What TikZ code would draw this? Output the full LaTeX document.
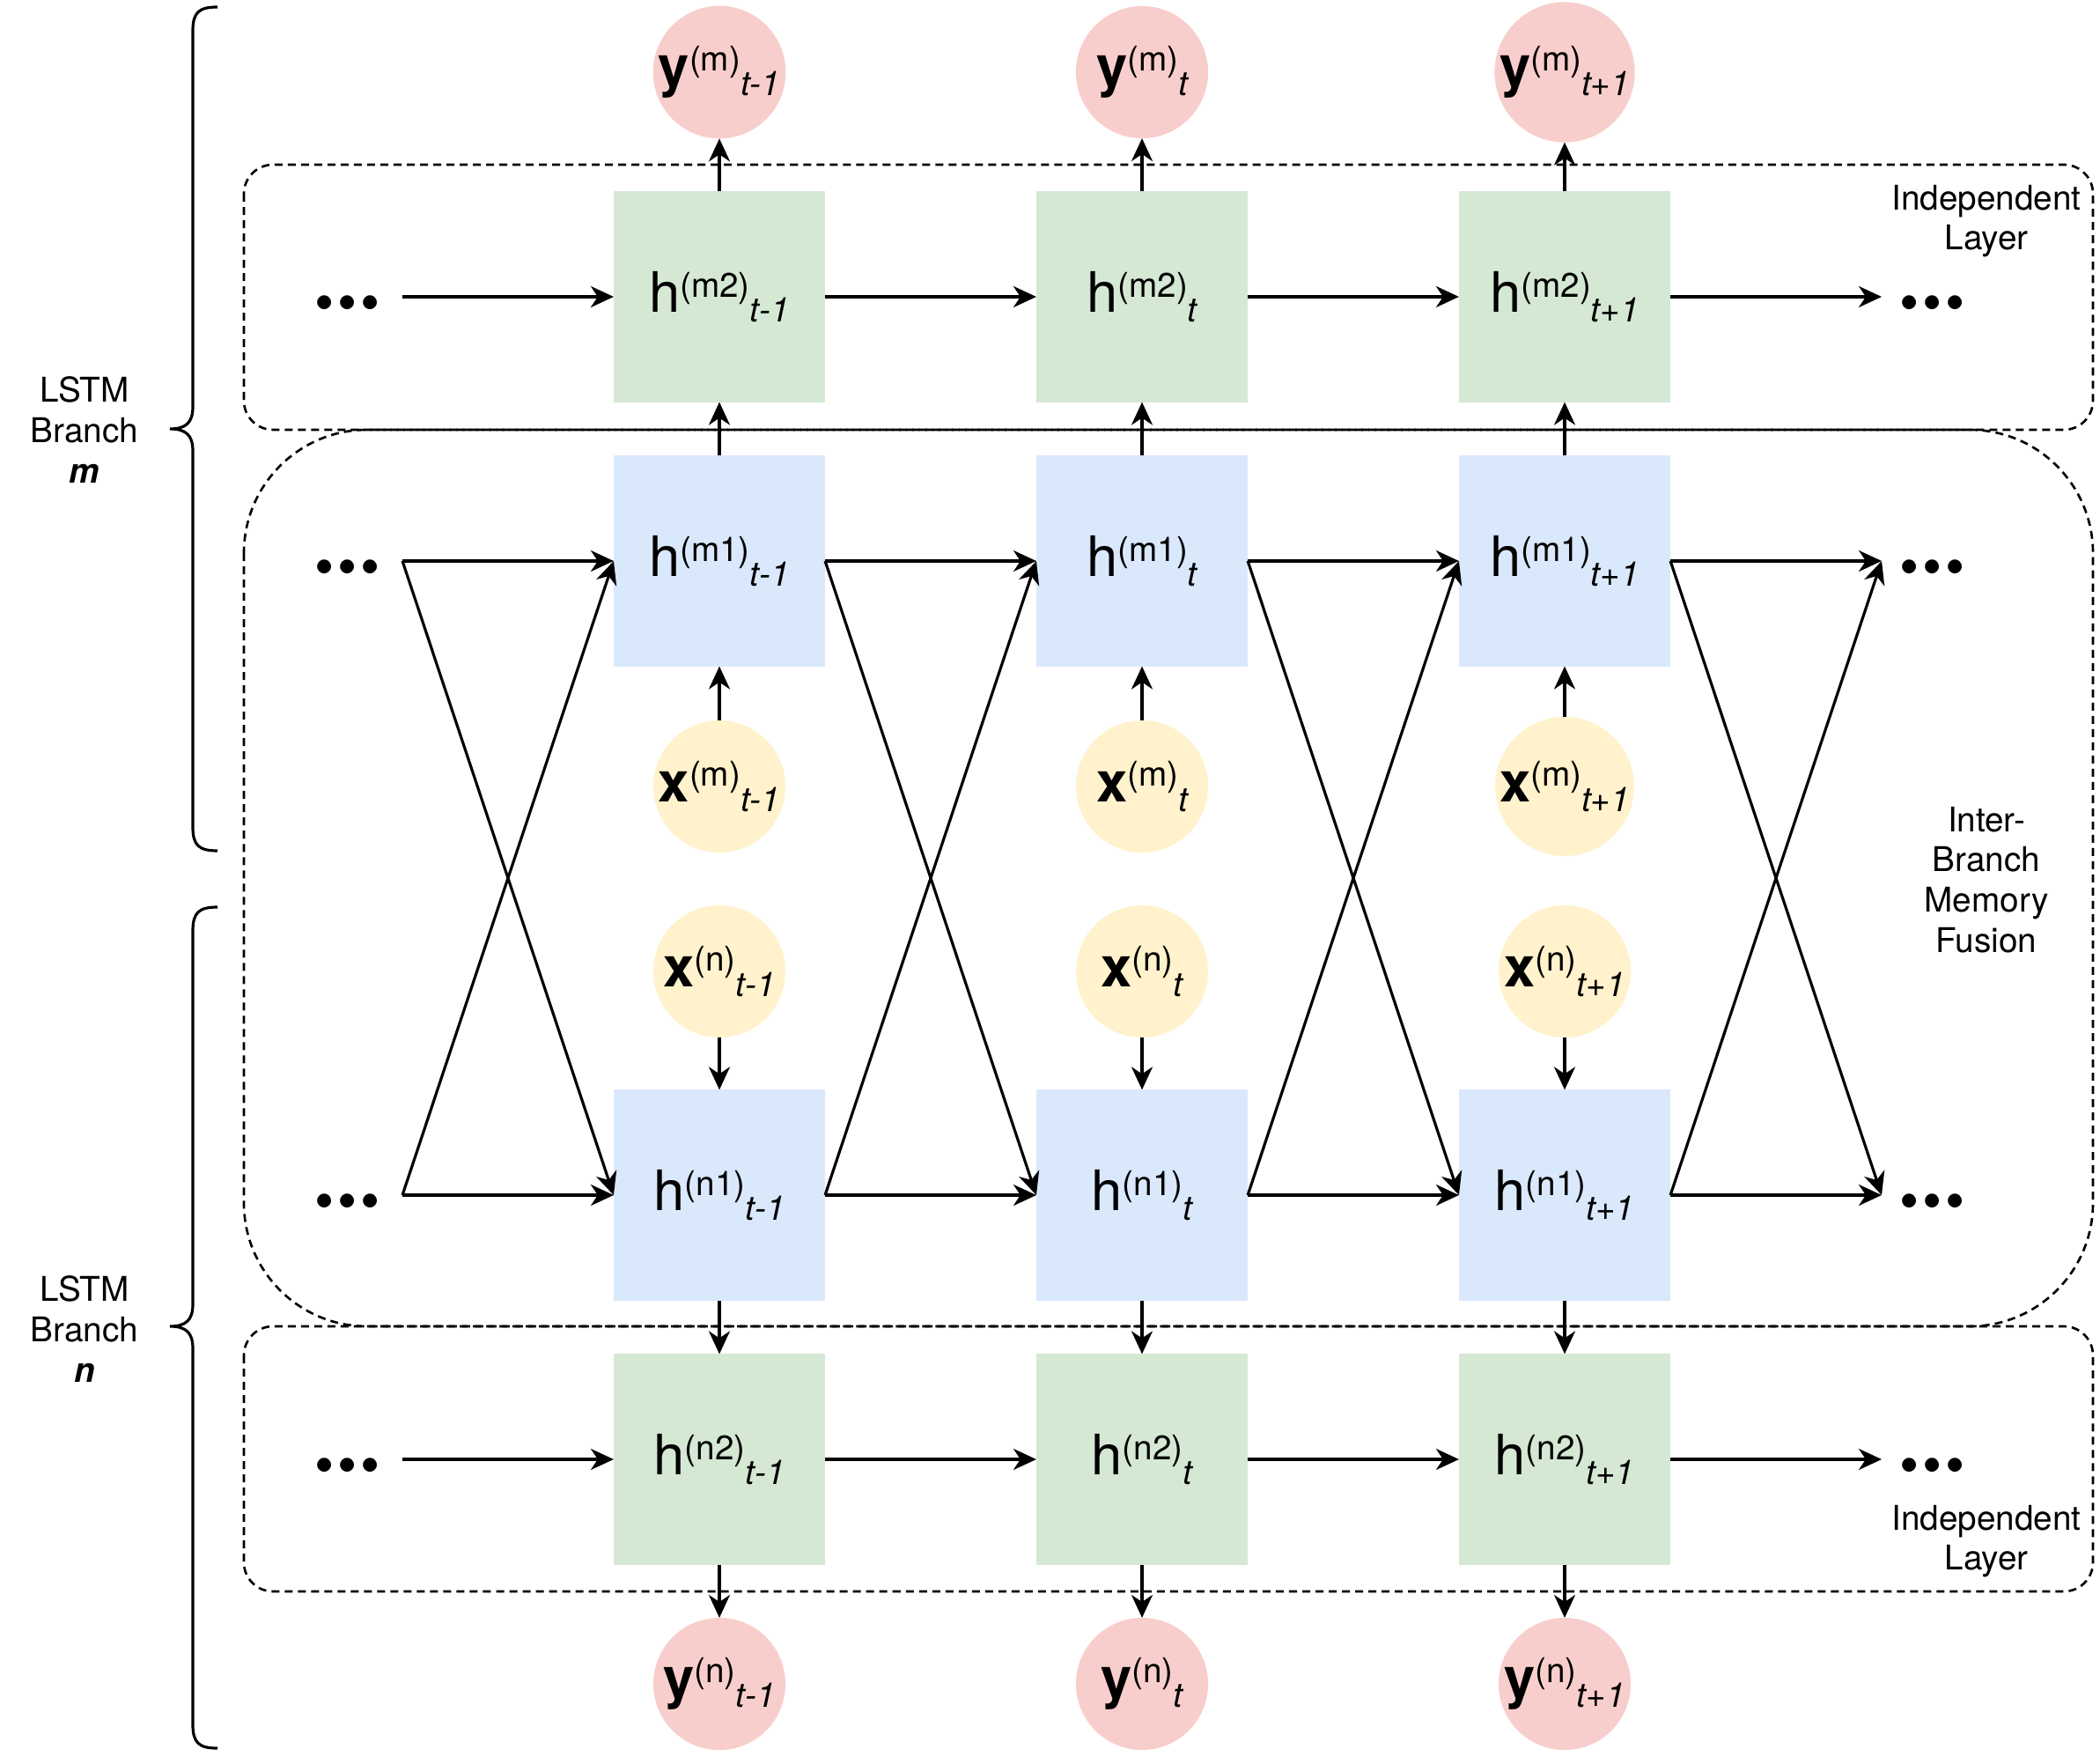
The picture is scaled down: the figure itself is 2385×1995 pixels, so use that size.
\documentclass[tikz,border=0pt]{standalone}
\usepackage{fontspec}
\setmainfont{TeX Gyre Heros}
\usetikzlibrary{arrows.meta}
\definecolor{gfill}{HTML}{D5E8D4}
\definecolor{bfill}{HTML}{DAE8FC}
\definecolor{yfill}{HTML}{FFF2CC}
\definecolor{rfill}{HTML}{F8CECC}
\newcommand\lab[3]{#1\raisebox{5pt}{\fontsize{11}{11}\selectfont(#2)}\raisebox{-3pt}{\fontsize{11}{11}\selectfont\itshape #3}}
\newcommand\threedots{\textbullet\kern1.1pt\textbullet\kern1.1pt\textbullet}
\begin{document}
\begin{tikzpicture}[x=0.01cm, y=-0.01cm,
  hbox/.style={minimum width=2.4cm, minimum height=2.39cm, inner sep=0pt, outer sep=0pt, font=\fontsize{18}{20}\selectfont},
  greenbox/.style={hbox, fill=gfill},
  bluebox/.style={hbox, fill=bfill},
  circ/.style={circle, minimum size=1.5cm, inner sep=0pt, outer sep=0pt, font=\fontsize{18}{20}\selectfont},
  yellowc/.style={circ, fill=yfill},
  redc/.style={circ, fill=rfill},
  arr/.style={-{Stealth[length=0.26cm,width=0.24cm,inset=0.08cm]}, line width=0.9pt},
  region/.style={draw, line width=0.75pt, dash pattern=on 0.09cm off 0.06cm},
  dotsn/.style={font=\fontsize{18}{18}\selectfont, inner sep=0pt},
  txt/.style={align=center, font=\fontsize{11}{13}\selectfont, inner sep=0pt}]
\useasboundingbox (0,0) rectangle (2385,1995);

% dashed regions
\draw[region, rounded corners=0.33cm] (277,187) rectangle (2377,488);
\draw[region, rounded corners=1.4cm] (277,488) rectangle (2377,1506);
\draw[region, rounded corners=0.33cm] (277,1506) rectangle (2377,1807);

% nodes
\foreach \i/\x/\s in {1/817/t-1,2/1297/t,3/1777/t+1}{
  \node[redc] (ym\i) at (\x,82) {\lab{\textbf{y}}{m}{\s}};
  \node[greenbox] (hmb\i) at (\x,337) {\lab{h}{m2}{\s}};
  \node[bluebox] (hma\i) at (\x,637) {\lab{h}{m1}{\s}};
  \node[yellowc] (xm\i) at (\x,893) {\lab{\textbf{x}}{m}{\s}};
  \node[yellowc] (xn\i) at (\x,1103) {\lab{\textbf{x}}{n}{\s}};
  \node[bluebox] (hna\i) at (\x,1357) {\lab{h}{n1}{\s}};
  \node[greenbox] (hnb\i) at (\x,1657) {\lab{h}{n2}{\s}};
  \node[redc] (yn\i) at (\x,1912) {\lab{\textbf{y}}{n}{\s}};
}

% dots and arrow ends
\foreach \r/\y in {mb/337,ma/637,na/1357,nb/1657}{
  \node[dotsn] (dl\r) at (395,\y+14) {\threedots};
  \node[dotsn] (dr\r) at (2195,\y+14) {\threedots};
  \coordinate (s\r) at (457,\y);
  \coordinate (e\r) at (2137,\y);
}

% vertical arrows
\foreach \i in {1,2,3}{
  \draw[arr] (hmb\i.north) -- (ym\i.south);
  \draw[arr] (hma\i.north) -- (hmb\i.south);
  \draw[arr] (xm\i.north) -- (hma\i.south);
  \draw[arr] (xn\i.south) -- (hna\i.north);
  \draw[arr] (hna\i.south) -- (hnb\i.north);
  \draw[arr] (hnb\i.south) -- (yn\i.north);
}

% horizontal arrows
\draw[arr] (smb) -- (hmb1.west);
\draw[arr] (sma) -- (hma1.west);
\draw[arr] (sna) -- (hna1.west);
\draw[arr] (snb) -- (hnb1.west);
\draw[arr] (sma) -- (hna1.west);
\draw[arr] (sna) -- (hma1.west);
\foreach \i/\j in {1/2,2/3}{
  \draw[arr] (hmb\i.east) -- (hmb\j.west);
  \draw[arr] (hma\i.east) -- (hma\j.west);
  \draw[arr] (hna\i.east) -- (hna\j.west);
  \draw[arr] (hnb\i.east) -- (hnb\j.west);
  \draw[arr] (hma\i.east) -- (hna\j.west);
  \draw[arr] (hna\i.east) -- (hma\j.west);
}
\draw[arr] (hmb3.east) -- (emb);
\draw[arr] (hma3.east) -- (ema);
\draw[arr] (hna3.east) -- (ena);
\draw[arr] (hnb3.east) -- (enb);
\draw[arr] (hma3.east) -- (ena);
\draw[arr] (hna3.east) -- (ema);

% braces
\draw[line width=0.9pt] (247,8) .. controls (226,8) and (219,14) .. (219,35) -- (219,462)
  .. controls (219,480) and (211,487) .. (193,487) .. controls (211,487) and (219,494) .. (219,512)
  -- (219,939) .. controls (219,960) and (226,966) .. (247,966);
\draw[line width=0.9pt] (247,1030) .. controls (226,1030) and (219,1036) .. (219,1057) -- (219,1481)
  .. controls (219,1499) and (211,1506) .. (193,1506) .. controls (211,1506) and (219,1513) .. (219,1531)
  -- (219,1958) .. controls (219,1979) and (226,1985) .. (247,1985);

% labels
\node[txt] (lblm) at (96,488) {LSTM\\Branch\\\textbf{\textit{m}}};
\node[txt] (lbln) at (96,1509) {LSTM\\Branch\\\textbf{\textit{n}}};
\node[txt] (indt) at (2256,251) {Independent\\Layer};
\node[txt] (indb) at (2256,1750) {Independent\\Layer};
\node[txt] (fus) at (2256,999) {Inter-\\Branch\\Memory\\Fusion};
\end{tikzpicture}
\end{document}
